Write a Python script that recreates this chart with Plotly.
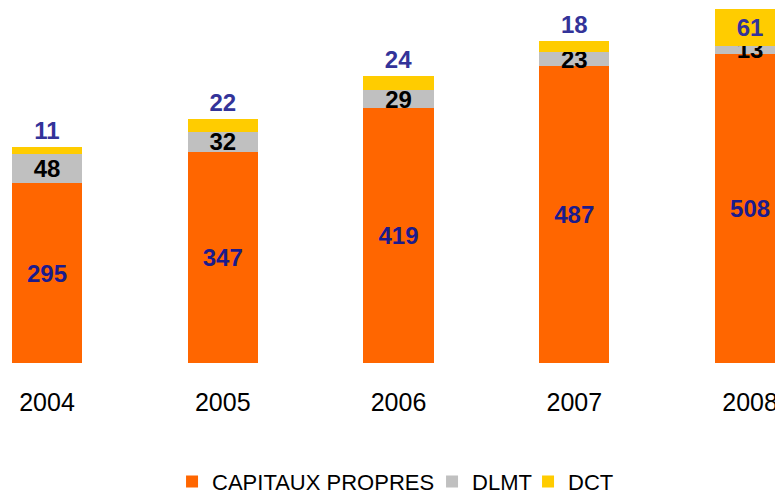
import plotly.graph_objects as go

years = ["2004", "2005", "2006", "2007", "2008"]
capitaux = [295, 347, 419, 487, 508]
dlmt = [48, 32, 29, 23, 13]
dct = [11, 22, 24, 18, 61]

FONT = "Liberation Sans, Arial, sans-serif"

fig = go.Figure()
fig.add_trace(go.Bar(
    x=years, y=capitaux, name="CAPITAUX PROPRES",
    marker=dict(color="#FF6600", line=dict(width=0)),
    text=[str(v) for v in capitaux], textposition="inside", insidetextanchor="middle",
    textangle=0, constraintext="none",
    textfont=dict(family=FONT, size=24, color="#1B1B8C", weight="bold"),
    width=0.4, legendwidth=215, cliponaxis=False,
))
fig.add_trace(go.Bar(
    x=years, y=dlmt, name="DLMT",
    marker=dict(color="#C0C0C0", line=dict(width=0)),
    text=[str(v) for v in dlmt], textposition="inside", insidetextanchor="middle",
    textangle=0, constraintext="none",
    textfont=dict(family=FONT, size=24, color="#000000", weight="bold"),
    width=0.4, cliponaxis=False, legendwidth=51,
))
fig.add_trace(go.Bar(
    x=years, y=dct, name="DCT",
    marker=dict(color="#FFCC00", line=dict(width=0)),
    text=[str(v) for v in dct],
    textposition=["outside", "outside", "outside", "outside", "inside"],
    insidetextanchor="middle", textangle=0, constraintext="none",
    textfont=dict(family=FONT, size=24, color="#333399", weight="bold"),
    width=0.4, cliponaxis=False, legendwidth=45,
))

fig.update_layout(
    width=783, height=495,
    margin=dict(l=0, r=0, t=0, b=132),
    barmode="stack",
    plot_bgcolor="white", paper_bgcolor="white",
    font=dict(family=FONT, color="black"),
    showlegend=True,
    legend=dict(orientation="h", x=0.2095, xanchor="left", y=-0.2755, yanchor="top",
                font=dict(family=FONT, size=22, color="black"), traceorder="normal",
                entrywidthmode="pixels"),
    xaxis=dict(range=[-0.222, 4.233], showgrid=False, showline=False, zeroline=False,
               ticks="", tickfont=dict(family=FONT, size=25, color="black"),
               ticklabelstandoff=22),
    yaxis=dict(range=[0, 583], visible=False),
)

fig.write_html("out.html")
